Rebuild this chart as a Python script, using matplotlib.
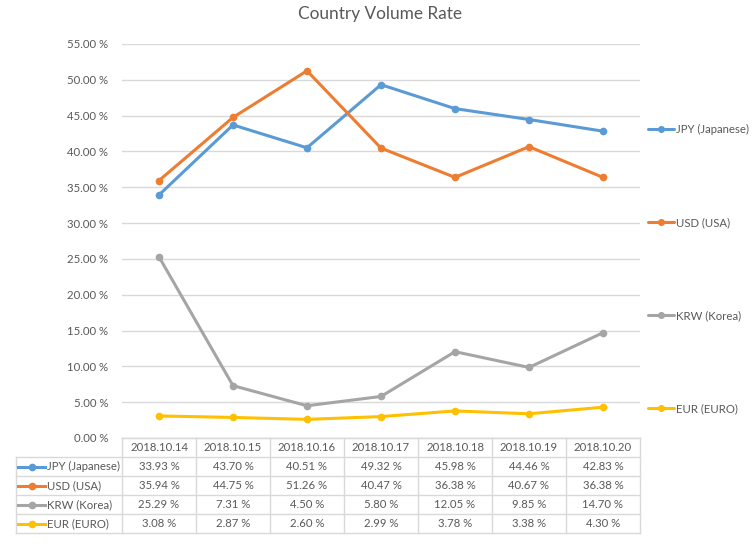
import matplotlib
matplotlib.use('Agg')
import matplotlib.pyplot as plt
import numpy as np
from matplotlib.lines import Line2D
from matplotlib.ticker import FuncFormatter, MultipleLocator

plt.rcParams['font.family'] = ['Lato', 'DejaVu Sans']

DATES = ['2018.10.14', '2018.10.15', '2018.10.16', '2018.10.17',
         '2018.10.18', '2018.10.19', '2018.10.20']
SERIES = ['JPY (Japanese)', 'USD (USA)', 'KRW (Korea)', 'EUR (EURO)']
JPY = [33.93, 43.70, 40.51, 49.32, 45.98, 44.46, 42.83]
USD = [35.94, 44.75, 51.26, 40.47, 36.38, 40.67, 36.38]
KRW = [25.29, 7.31, 4.50, 5.80, 12.05, 9.85, 14.70]
EUR = [3.08, 2.87, 2.60, 2.99, 3.78, 3.38, 4.30]
COLORS = ['#5b9bd5', '#ed7d31', '#a5a5a5', '#ffc000']

TEXT = '#595959'
GRID = '#d9d9d9'
W, H = 752, 556
FS = 8.2


def fx(px):
    return px / W


def fy(py):
    return (H - py) / H


fig = plt.figure(figsize=(7.52, 5.56), dpi=100)
fig.patch.set_facecolor('white')

# --- main plot area ---
ax = fig.add_axes([fx(122), fy(438), fx(640) - fx(122), fy(44) - fy(438)])
x = np.arange(len(DATES))
values = [JPY, USD, KRW, EUR]
handles = []
for name, vals, c in zip(SERIES, values, COLORS):
    h, = ax.plot(x, vals, color=c, lw=2.2, marker='o', ms=4.5, label=name,
                 solid_capstyle='round')
    handles.append(h)

ax.set_xlim(-0.5, len(DATES) - 0.5)
ax.set_ylim(0, 55)
ax.yaxis.set_major_locator(MultipleLocator(5))
ax.yaxis.set_major_formatter(FuncFormatter(lambda v, p: f'{v:.2f} %'))
ax.yaxis.grid(True, color=GRID, lw=1)
ax.set_axisbelow(True)
ax.set_xticks([])
ax.tick_params(axis='y', length=0, pad=10, labelsize=FS, labelcolor=TEXT)
for s in ['top', 'right', 'left']:
    ax.spines[s].set_visible(False)
ax.spines['bottom'].set_color(GRID)

fig.text(0.505, fy(14), 'Country Volume Rate', ha='center', va='center',
         fontsize=12.4, color=TEXT)

# --- right legend ---
fig.legend(handles, SERIES, loc='center left',
           bbox_to_anchor=(fx(642), fy(269)), frameon=False,
           fontsize=FS, labelcolor=TEXT, handlelength=2.3, handletextpad=0.2,
           labelspacing=7.2, borderpad=0, markerscale=0.9)

# --- data table ---
label_cols = (122 - 16) / 74.0
tab = fig.add_axes([fx(16), fy(533), fx(640) - fx(16), fy(438) - fy(533)])
tab.set_xlim(-0.5 - label_cols, len(DATES) - 0.5)
tab.set_ylim(len(SERIES) + 1, 0)
tab.axis('off')
left = -0.5 - label_cols
right = len(DATES) - 0.5
nrows = len(SERIES) + 1
kw = dict(color=GRID, lw=1, clip_on=False)
tab.plot([-0.5, right], [0, 0], **kw)
for r in range(1, nrows + 1):
    tab.plot([left, right], [r, r], **kw)
for c in range(len(DATES) + 1):
    tab.plot([c - 0.5, c - 0.5], [0, nrows], **kw)
tab.plot([left, left], [1, nrows], **kw)

for c, d in enumerate(DATES):
    tab.text(c, 0.5, d, ha='center', va='center', fontsize=FS, color=TEXT)
for r, (name, vals, col) in enumerate(zip(SERIES, values, COLORS), start=1):
    for c, v in enumerate(vals):
        tab.text(c, r + 0.5, f'{v:.2f} %', ha='center', va='center',
                 fontsize=FS, color=TEXT)
    x0 = left + 2 / 74.0
    x1 = left + 29 / 74.0
    tab.add_line(Line2D([x0, x1], [r + 0.5, r + 0.5], color=col, lw=2.2,
                        clip_on=False))
    tab.plot([(x0 + x1) / 2], [r + 0.5], marker='o', ms=4.5, color=col,
             clip_on=False)
    tab.text(x1 + 2 / 74.0, r + 0.5, name, ha='left', va='center',
             fontsize=FS, color=TEXT)

fig.savefig('out.png', dpi=100, facecolor='white')
